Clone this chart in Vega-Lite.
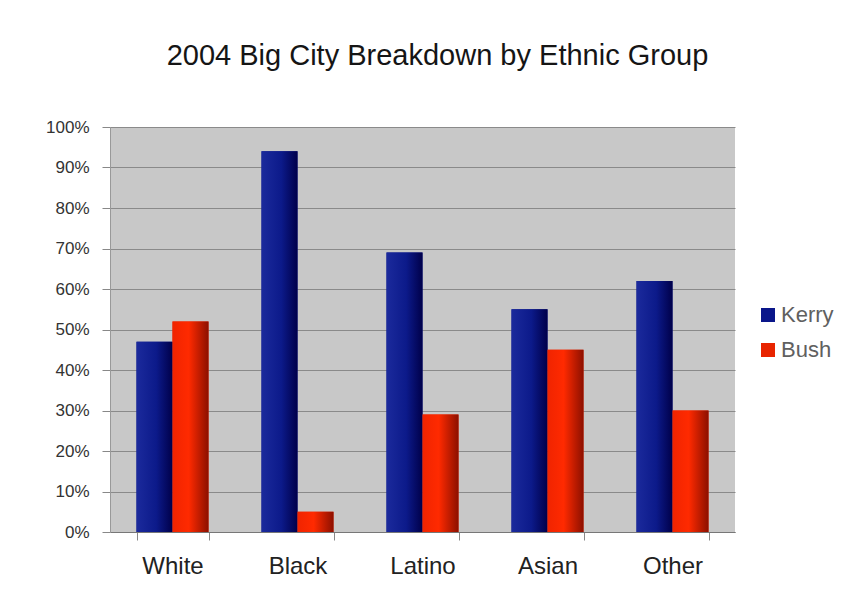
{
  "$schema": "https://vega.github.io/schema/vega-lite/v6.json",
  "width": 625,
  "height": 405,
  "autosize": {"type": "none"},
  "padding": {"left": 110, "top": 127, "right": 114, "bottom": 82},
  "background": "white",
  "title": {
    "text": "2004 Big City Breakdown by Ethnic Group",
    "font": "Liberation Sans",
    "fontSize": 29,
    "fontWeight": "normal",
    "color": "#151515",
    "offset": 47,
    "dx": 15
  },
  "data": {
    "values": [
      {"group": "White", "candidate": "Kerry", "value": 0.47},
      {"group": "White", "candidate": "Bush", "value": 0.52},
      {"group": "Black", "candidate": "Kerry", "value": 0.94},
      {"group": "Black", "candidate": "Bush", "value": 0.05},
      {"group": "Latino", "candidate": "Kerry", "value": 0.69},
      {"group": "Latino", "candidate": "Bush", "value": 0.29},
      {"group": "Asian", "candidate": "Kerry", "value": 0.55},
      {"group": "Asian", "candidate": "Bush", "value": 0.45},
      {"group": "Other", "candidate": "Kerry", "value": 0.62},
      {"group": "Other", "candidate": "Bush", "value": 0.30}
    ]
  },
  "encoding": {
    "x": {
      "field": "group",
      "type": "nominal",
      "sort": ["White", "Black", "Latino", "Asian", "Other"],
      "scale": {"paddingInner": 0.424, "paddingOuter": 0.212},
      "axis": {
        "title": null,
        "labelAngle": 0,
        "tickBand": "extent",
        "tickSize": 8,
        "tickColor": "#888888",
        "domainColor": "#777777",
        "labelFont": "Liberation Sans",
        "labelFontSize": 24,
        "labelColor": "#222222",
        "labelPadding": 14,
        "grid": false
      }
    },
    "xOffset": {
      "field": "candidate",
      "type": "nominal",
      "sort": ["Kerry", "Bush"],
      "scale": {"domain": ["Kerry", "Bush"], "paddingInner": 0, "paddingOuter": 0}
    },
    "y": {
      "field": "value",
      "type": "quantitative",
      "scale": {"domain": [0, 1], "nice": false},
      "axis": {
        "title": null,
        "format": ".0%",
        "values": [0, 0.1, 0.2, 0.3, 0.4, 0.5, 0.6, 0.7, 0.8, 0.9, 1],
        "tickSize": 8,
        "tickColor": "#888888",
        "domainColor": "#999999",
        "gridColor": "#8a8a8a",
        "gridOpacity": 1,
        "labelFont": "Liberation Sans",
        "labelFontSize": 17,
        "labelColor": "#333333",
        "labelPadding": 13
      }
    }
  },
  "layer": [
    {
      "mark": {"type": "bar"},
      "encoding": {
        "color": {
          "field": "candidate",
          "type": "nominal",
          "scale": {"domain": ["Kerry", "Bush"], "range": ["#0a168a", "#e82400"]},
          "legend": {
            "title": null,
            "orient": "none",
            "legendX": 647,
            "legendY": 177,
            "symbolType": "square",
            "symbolSize": 196,
            "symbolStrokeWidth": 0,
            "labelFont": "Liberation Sans",
            "labelFontSize": 22,
            "labelColor": "#606060",
            "labelOffset": 2,
            "rowPadding": 13
          }
        }
      }
    },
    {
      "transform": [{"filter": "datum.candidate === 'Kerry'"}],
      "mark": {
        "type": "bar",
        "fill": {"gradient": "linear", "x1": 0, "y1": 0, "x2": 1, "y2": 0,
          "stops": [{"offset": 0, "color": "#1b2a9c"}, {"offset": 0.55, "color": "#0c1a8a"}, {"offset": 1, "color": "#00004a"}]}
      }
    },
    {
      "transform": [{"filter": "datum.candidate === 'Bush'"}],
      "mark": {
        "type": "bar",
        "fill": {"gradient": "linear", "x1": 0, "y1": 0, "x2": 1, "y2": 0,
          "stops": [{"offset": 0, "color": "#f02400"}, {"offset": 0.45, "color": "#ff2a00"}, {"offset": 1, "color": "#8c1000"}]}
      }
    }
  ],
  "config": {
    "view": {"fill": "#c8c8c8", "stroke": null},
    "axis": {"domainWidth": 1, "tickWidth": 1, "gridWidth": 1}
  }
}
